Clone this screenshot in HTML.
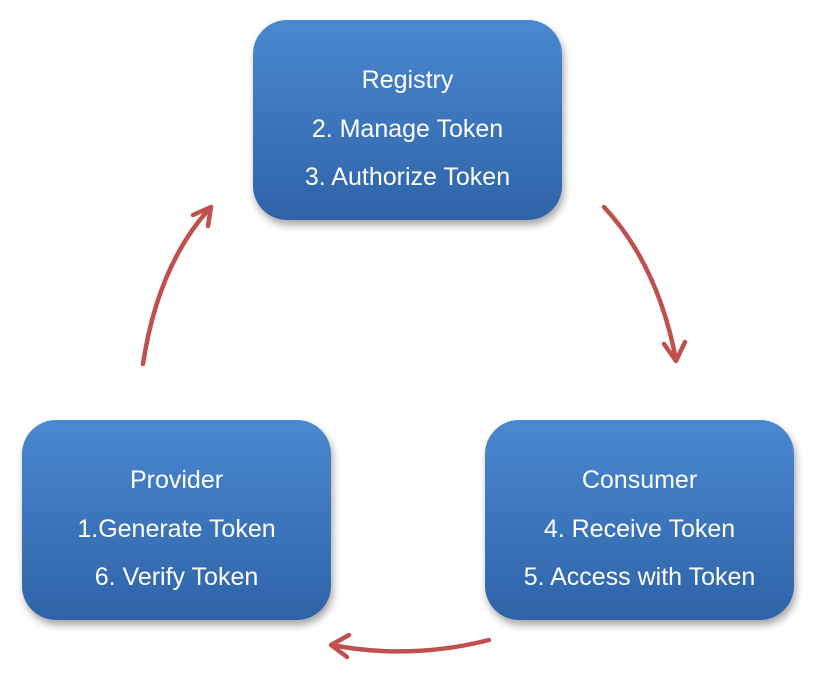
<!DOCTYPE html>
<html><head><meta charset="utf-8"><style>
html,body{margin:0;padding:0;background:#fff;}
body{width:828px;height:680px;position:relative;overflow:hidden;font-family:"Liberation Sans",sans-serif;}
.box{position:absolute;width:309px;height:200px;border-radius:34px;
background:linear-gradient(#4a88d0,#2f63a8);box-shadow:2px 5px 8px rgba(0,0,0,0.35);
color:#fff;text-align:center;font-size:25px;box-sizing:border-box;padding-top:36px;line-height:48.5px;}
svg{position:absolute;left:0;top:0;}
</style></head><body>
<div class="box" style="left:253px;top:20px;">Registry<br>2. Manage Token<br>3. Authorize Token</div>
<div class="box" style="left:22px;top:420px;">Provider<br>1.Generate Token<br>6. Verify Token</div>
<div class="box" style="left:485px;top:420px;">Consumer<br>4. Receive Token<br>5. Access with Token</div>
<svg width="828" height="680" viewBox="0 0 828 680">
<g fill="none" stroke="#c0504d" stroke-width="4.5" stroke-linecap="round" stroke-linejoin="round">
<path d="M143 364 Q158 265 210 208"/>
<path d="M193 215 L211 207 L208 226"/>
<path d="M604 207 Q658 265 676 360"/>
<path d="M664 344 L676 361 L685 342"/>
<path d="M489 640 Q410 660 332 645"/>
<path d="M349 635 L331 645 L347 657"/>
</g>
</svg>
</body></html>
